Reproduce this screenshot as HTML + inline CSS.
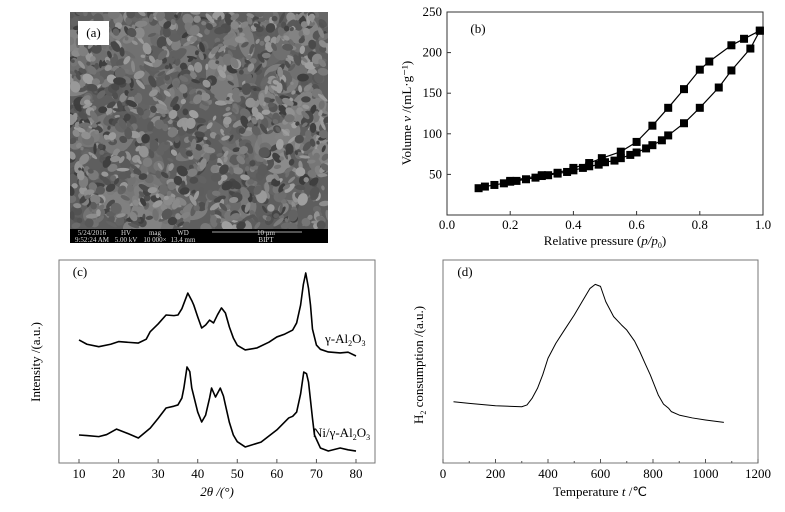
<!DOCTYPE html>
<html><head><meta charset="utf-8"><style>
html,body{margin:0;padding:0;background:#fff;}
svg{display:block;font-family:"Liberation Serif",serif;}
</style></head><body>
<svg id="fig" width="785" height="512" viewBox="0 0 785 512" xmlns="http://www.w3.org/2000/svg">
<defs><clipPath id="semclip"><rect x="70" y="12" width="258" height="217"/></clipPath></defs>
<g id="sem">
<rect x="70" y="12" width="258" height="217" fill="#5e5e5e"/>
<g id="semtex" clip-path="url(#semclip)"></g>
<rect x="78" y="21" width="31" height="24" fill="#fff"/>
<text x="93.5" y="37" font-size="13" text-anchor="middle">(a)</text>
<rect x="70" y="229" width="258" height="14" fill="#000"/>
<g fill="#ddd" font-size="7" text-anchor="middle">
<text x="92" y="235">5/24/2016</text><text x="92" y="242">9:52:24 AM</text>
<text x="126" y="235">HV</text><text x="126" y="242">5.00 kV</text>
<text x="155" y="235">mag</text><text x="155" y="242">10 000×</text>
<text x="183" y="235">WD</text><text x="183" y="242">13.4 mm</text>
<text x="266" y="235">10 μm</text><text x="266" y="242">BIPT</text>
</g>
<line x1="212" y1="232" x2="302" y2="232" stroke="#ddd" stroke-width="0.8"/>
</g>
<g id="pb"></g>
<g id="pc"></g>
<g id="pd"></g>
</svg>
<script>
// Panel b data
const bAdsX=[0.10,0.12,0.15,0.18,0.20,0.22,0.25,0.28,0.30,0.32,0.35,0.38,0.40,0.43,0.45,0.48,0.50,0.53,0.55,0.58,0.60,0.63,0.65,0.68,0.70,0.75,0.80,0.86,0.90,0.96,0.99];
const bAdsY=[33,35,37,39,41,42,44,46,48,49,51,53,55,58,60,62,65,67,70,74,77,82,86,92,98,113,132,157,178,205,227];
const bDesX=[0.99,0.94,0.90,0.83,0.80,0.75,0.70,0.65,0.60,0.55,0.49,0.45,0.40,0.35,0.30,0.20];
const bDesY=[227,217,209,189,179,155,132,110,90,78,70,64,58,52,49,42];
const bXTicks=[0,0.2,0.4,0.6,0.8,1.0];
const bXTickLabels=["0.0","0.2","0.4","0.6","0.8","1.0"];
const bYTicks=[50,100,150,200,250];
// Panel c data
const cTopX=[10,12,15,18,20,22,25,27,28,30,32,34,35,36,37.5,38.5,39,40,41,42,43,44,45,46,47,48,49,50,52,55,58,60,62,64,65,66,66.7,67.3,68,68.5,69,70,71,73,76,78,80];
const cTopY=[60.6,58.5,57.3,58.5,59.8,59.5,59.1,61,64.7,68.5,72.9,72.6,72.9,76,83.7,80,77.8,72,66.5,68,70.4,69,73,76.4,73.9,67,61.6,58,55.7,56.7,59.5,62.1,63.5,65.5,69,77.8,88,93.6,86,77.8,66,58.1,56,54.7,54.2,54.6,52.7];
const cBotX=[10,12,15,17,19.5,22,25,28,30,32,34,35,36,36.5,37.3,38,38.5,40,41,42,43,43.5,44.5,45.7,46.5,47,48,49,50,52,56,60,63,64,65,66,66.8,67.5,68,69,69.5,71,73,76,78,80];
const cBotY=[13.8,13.5,13,14,16.7,14.8,12.3,17.2,22,27.1,28,28.6,32,36.9,47.3,45,36.9,25.1,20.2,23.6,32,36.9,32.5,36.9,33,28.6,20,13.8,10.5,7.9,10.3,16.3,22.2,23,25.1,34,44.8,44,39.9,22,13.8,7.4,5.9,7.4,6.5,5.9];
const cXTicks=[10,20,30,40,50,60,70,80];
// Panel d data
const dX=[40,100,200,300,320,340,360,380,400,430,460,500,530,560,580,600,620,650,680,700,730,750,770,790,820,840,860,870,900,950,1000,1070];
const dY=[30.2,29.4,28.2,27.7,28.6,32,36.8,43.5,51.6,59,65,72.9,79.5,86,88,87,79.5,72.1,68,65.5,60,54.8,49,43.3,33.5,29,26.9,25.3,23.6,22.2,21.2,20];
const dXTicks=[0,200,400,600,800,1000,1200];

const NS="http://www.w3.org/2000/svg";
function mk(p,tag,attrs){const e=document.createElementNS(NS,tag);for(const k in attrs)e.setAttribute(k,attrs[k]);p.appendChild(e);return e;}
function txt(p,x,y,s,anchor,size){const t=mk(p,'text',{x:x,y:y,'font-size':size||13,'text-anchor':anchor||'middle'});t.textContent=s;return t;}

// SEM texture (decorative)
(function(){const g=document.getElementById('semtex');let s=12345;const r=()=>{s=(s*1103515245+12345)%2147483648;return s/2147483648;};
for(let i=0;i<1400;i++){const big=i<70;const x=70+r()*258,y=12+r()*217,rx=big?8+r()*18:1.5+r()*5,ry=big?6+r()*10:1.5+r()*4;const c=Math.floor(big?95+r()*45:60+r()*100);
const e=mk(g,'ellipse',{cx:x,cy:y,rx:rx,ry:ry,fill:`rgb(${c},${c},${c})`,transform:`rotate(${Math.floor(r()*180)} ${x} ${y})`});

}})();

// Panel b
(function(){const g=document.getElementById('pb');const L=447,R=763,T=12,B=215;
const sx=v=>L+(R-L)*v,sy=v=>B-(B-T)*v/250;
const f=mk(g,'rect',{x:L,y:T,width:R-L,height:B-T,fill:'none',stroke:'#333','stroke-width':1});


bXTicks.forEach((v,i)=>{mk(g,'line',{x1:sx(v),x2:sx(v),y1:B,y2:B-4,stroke:'#333'});const t=txt(g,sx(v),B+14,bXTickLabels[i]);

});
bYTicks.forEach(v=>{mk(g,'line',{x1:L,x2:L+4,y1:sy(v),y2:sy(v),stroke:'#333'});const t=txt(g,L-5,sy(v)+4,String(v),'end');

});
const xt=txt(g,605,245,'Relative pressure    (');


const it=mk(g,'tspan',{'font-style':'italic'});it.textContent='p/p';
const sub=mk(g,'tspan',{'font-size':8,dy:3});sub.textContent='0';const cl=mk(g,'tspan',{dy:-3});cl.textContent=')';xt.append(it,sub,cl);
const yt=txt(g,0,0,'Volume    ');yt.setAttribute('transform','translate(411,113) rotate(-90)');
const yv=mk(g,'tspan',{'font-style':'italic'});yv.textContent='v';const yr=mk(g,'tspan',{});yr.textContent=' /(mL·g⁻¹)';yt.append(yv,yr);


const lb=txt(g,478,33,'(b)');


[[bAdsX,bAdsY,'adsorption'],[bDesX,bDesY,'desorption']].forEach(([X,Y,n])=>{
const p=mk(g,'polyline',{points:X.map((x,i)=>sx(x)+','+sy(Y[i])).join(' '),fill:'none',stroke:'#000','stroke-width':1.2});


X.forEach((x,i)=>{const m=mk(g,'rect',{x:sx(x)-4,y:sy(Y[i])-4,width:8,height:8,fill:'#000'});

});});})();

// Panel c
(function(){const g=document.getElementById('pc');const L=59,R=375,T=260,B=463;
const sx=v=>79+(v-10)*(356-79)/70,sy=v=>B-(B-T)*v/100;
const f=mk(g,'rect',{x:L,y:T,width:R-L,height:B-T,fill:'none',stroke:'#777','stroke-width':1});


cXTicks.forEach(v=>{mk(g,'line',{x1:sx(v),x2:sx(v),y1:B,y2:B-4,stroke:'#555'});const t=txt(g,sx(v),B+15,String(v));

});
const xt=txt(g,217,496,'2θ /(°)');xt.setAttribute('font-style','italic');


const yt=txt(g,0,0,'Intensity /(a.u.)');yt.setAttribute('transform','translate(40,362) rotate(-90)');


const lb=txt(g,80,276,'(c)');


[[cTopX,cTopY,'gamma-al2o3-line'],[cBotX,cBotY,'ni-gamma-al2o3-line']].forEach(([X,Y,n])=>{
const p=mk(g,'polyline',{points:X.map((x,i)=>sx(x)+','+sy(Y[i])).join(' '),fill:'none',stroke:'#000','stroke-width':1.6,'stroke-linejoin':'round'});

});
const l1=txt(g,325,343,'γ-Al','start');const a=mk(g,'tspan',{'font-size':8,dy:3});a.textContent='2';const b=mk(g,'tspan',{dy:-3});b.textContent='O';const c=mk(g,'tspan',{'font-size':8,dy:3});c.textContent='3';l1.append(a,b,c);


const l2=txt(g,313,437,'Ni/γ-Al','start');const a2=mk(g,'tspan',{'font-size':8,dy:3});a2.textContent='2';const b2=mk(g,'tspan',{dy:-3});b2.textContent='O';const c2=mk(g,'tspan',{'font-size':8,dy:3});c2.textContent='3';l2.append(a2,b2,c2);

})();

// Panel d
(function(){const g=document.getElementById('pd');const L=443,R=758,T=260,B=463;
const sx=v=>L+(R-L)*v/1200,sy=v=>B-(B-T)*v/100;
const f=mk(g,'rect',{x:L,y:T,width:R-L,height:B-T,fill:'none',stroke:'#777','stroke-width':1});


dXTicks.forEach(v=>{mk(g,'line',{x1:sx(v),x2:sx(v),y1:B,y2:B-4,stroke:'#555'});if(v<1200)mk(g,'line',{x1:sx(v+100),x2:sx(v+100),y1:B,y2:B-2,stroke:'#555'});
const t=txt(g,sx(v),B+15,String(v));

});
const xt=txt(g,600,496,'Temperature     ');
const xv=mk(g,'tspan',{'font-style':'italic'});xv.textContent='t';const xr=mk(g,'tspan',{});xr.textContent=' /℃';xt.append(xv,xr);


const yt=txt(g,0,0,'H');yt.setAttribute('transform','translate(423,365) rotate(-90)');
const s=mk(g,'tspan',{'font-size':8,dy:3});s.textContent='2';const r=mk(g,'tspan',{dy:-3});r.textContent=' consumption /(a.u.)';yt.append(s,r);


const lb=txt(g,465,276,'(d)');


const p=mk(g,'polyline',{points:dX.map((x,i)=>sx(x)+','+sy(dY[i])).join(' '),fill:'none',stroke:'#000','stroke-width':1,'stroke-linejoin':'round'});

})();
</script>
</body></html>
